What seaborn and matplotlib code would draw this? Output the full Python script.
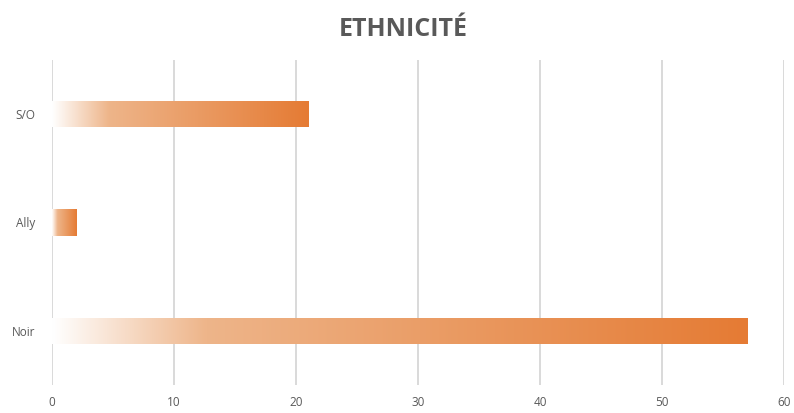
import numpy as np
import pandas as pd
import matplotlib
matplotlib.use("Agg")
import matplotlib.pyplot as plt
from matplotlib.colors import LinearSegmentedColormap
import seaborn as sns

categories = ["S/O", "Ally", "Noir"]
values = [21, 2, 57]
x_ticks = [0, 10, 20, 30, 40, 50, 60]

df = pd.DataFrame({"Ethnicité": categories, "Nombre": values})

sns.set_style("white")
plt.rcParams["font.family"] = ["Open Sans", "DejaVu Sans"]

fig = plt.figure(figsize=(7.94, 4.13), dpi=100)
ax = fig.add_axes([52 / 794, 28 / 413, 732 / 794, 325 / 413])

sns.barplot(data=df, x="Nombre", y="Ethnicité", orient="h", width=0.24,
            color="#E57C35", ax=ax, zorder=3)

# white -> orange gradient inside each bar
cmap = LinearSegmentedColormap.from_list(
    "grad", [(0.0, "#FFFFFF"), (0.22, "#EEB58A"), (1.0, "#E57B34")])
grad = np.linspace(0, 1, 256).reshape(1, -1)
for p in ax.patches:
    x0, y0 = p.get_x(), p.get_y()
    w, h = p.get_width(), p.get_height()
    p.set_facecolor("none")
    p.set_edgecolor("none")
    ax.imshow(grad, cmap=cmap, aspect="auto", zorder=3,
              extent=[x0, x0 + w, y0 + h, y0], interpolation="bicubic")

ax.set_xlim(0, 60)
ax.set_ylim(2.5, -0.5)
ax.set_xticks(x_ticks)
ax.grid(axis="x", color="#D9D9D9", linewidth=1.4, zorder=0)
ax.grid(axis="y", visible=False)
for s in ax.spines.values():
    s.set_visible(False)
ax.tick_params(axis="both", length=0, labelsize=8.5, labelcolor="#595959")
ax.tick_params(axis="x", pad=8)
ax.tick_params(axis="y", pad=12)
ax.set_xlabel("")
ax.set_ylabel("")

fig.suptitle("ETHNICITÉ", x=0.508, y=0.96, fontsize=18, fontweight="bold",
             color="#595959")

fig.savefig("out.png", dpi=100)
